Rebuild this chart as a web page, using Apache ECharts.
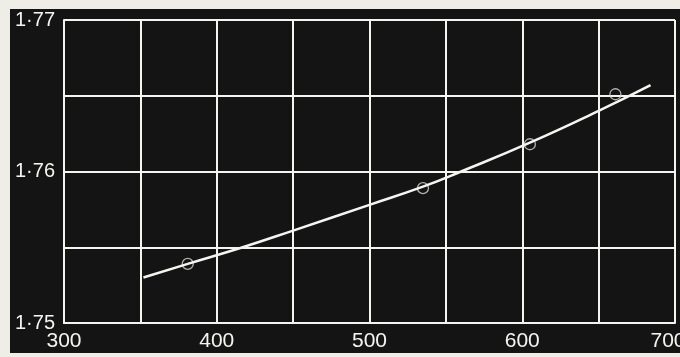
<!DOCTYPE html>
<html>
<head>
<meta charset="utf-8">
<script src="https://cdn.jsdelivr.net/npm/echarts@6/dist/echarts.min.js"></script>
<style>
html,body{margin:0;padding:0;background:#eeede6;}
#c{width:680px;height:357px;}
</style>
</head>
<body>
<div id="c"></div>
<script>
// circled observations
var pointX = [381, 535, 605, 661];
var pointY = [1.7539, 1.7589, 1.7618, 1.7651];
var curveX = [352, 381, 417, 450, 500, 535, 560, 605, 650, 684];
var curveY = [1.7530, 1.7539, 1.7550, 1.7561, 1.7578, 1.7590, 1.7600, 1.7619, 1.7640, 1.7657];
var xTickLabels = ['300', '400', '500', '600', '700'];
var yTickLabels = ['1·75', '1·76', '1·77'];

var chart = echarts.init(document.getElementById('c'), null, {renderer: 'canvas'});
var white = '#f4f4f0';
var font = 'Liberation Sans, Arial, sans-serif';
function pairs(xs, ys) { return xs.map(function (x, i) { return [x, ys[i]]; }); }

chart.setOption({
  backgroundColor: 'transparent',
  animation: false,
  graphic: [{
    type: 'rect', z: -10, silent: true,
    shape: {x: 10, y: 9, width: 670, height: 344},
    style: {fill: '#141414'}
  }],
  grid: {left: 64, right: 5, top: 20, bottom: 34, containLabel: false, outerBoundsMode: 'none'},
  xAxis: {
    type: 'value', min: 300, max: 700, interval: 50,
    axisLine: {show: true, lineStyle: {color: white, width: 2}},
    axisTick: {show: false},
    splitLine: {show: true, lineStyle: {color: white, width: 2}},
    axisLabel: {
      color: white, fontFamily: font, fontSize: 21, margin: 8,
      formatter: function (v) {
        var idx = Math.round((v - 300) / 100);
        if (Math.abs(v - 300 - idx * 100) > 0.01) return '';
        var s = xTickLabels[idx] || '';
        if (idx === xTickLabels.length - 1) return '{m|' + s + '}';
        return s;
      },
      rich: {m: {color: white, fontFamily: font, fontSize: 21, padding: [0, 14, 0, 0]}}
    }
  },
  yAxis: {
    type: 'value', min: 1.75, max: 1.77, interval: 0.005,
    axisLine: {show: true, lineStyle: {color: white, width: 2}},
    axisTick: {show: false},
    splitLine: {show: true, lineStyle: {color: white, width: 2}},
    axisLabel: {
      color: white, fontFamily: font, fontSize: 20, margin: 9,
      formatter: function (v) {
        var k = Math.round((v - 1.75) * 1000);
        if (k % 10 !== 0) return '';
        return yTickLabels[k / 10] || '';
      }
    }
  },
  series: [{
    type: 'line', smooth: 0.5, showSymbol: false, symbol: 'none',
    data: pairs(curveX, curveY),
    lineStyle: {color: white, width: 2.5}
  }, {
    type: 'scatter', symbol: 'circle', symbolSize: 11,
    data: pairs(pointX, pointY),
    itemStyle: {color: 'rgba(0,0,0,0)', borderColor: '#d8d8d4', borderWidth: 1.3}
  }]
});
</script>
</body>
</html>
